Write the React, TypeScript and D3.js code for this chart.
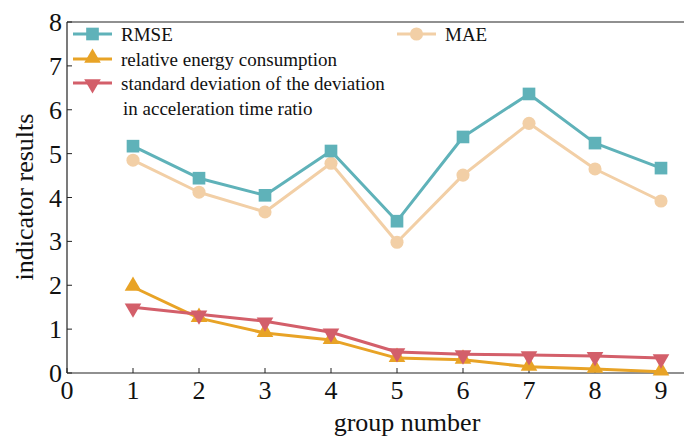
import React from "react";
import * as d3 from "d3";

const groups = [1, 2, 3, 4, 5, 6, 7, 8, 9];
const rmse = [5.17, 4.44, 4.05, 5.06, 3.46, 5.38, 6.36, 5.24, 4.67];
const mae = [4.85, 4.12, 3.67, 4.78, 2.98, 4.51, 5.69, 4.65, 3.92];
const energy = [1.96, 1.25, 0.91, 0.75, 0.34, 0.3, 0.14, 0.09, 0.03];
const stdDev = [1.5, 1.34, 1.18, 0.93, 0.48, 0.43, 0.41, 0.39, 0.34];
const xTicks = [0, 1, 2, 3, 4, 5, 6, 7, 8, 9];
const yTicks = [0, 1, 2, 3, 4, 5, 6, 7, 8];

const W = 684;
const H = 439;
const left = 67;
const top = 22;
const bottom = 373;
const font = "'Liberation Serif', 'Times New Roman', serif";

const x = d3.scaleLinear().domain([0, 9]).range([left, 661]);
const y = d3.scaleLinear().domain([0, 8]).range([bottom, top]);

type Marker = "square" | "circle" | "up" | "down";

function MarkerShape({ kind, cx, cy, color }: { kind: Marker; cx: number; cy: number; color: string }) {
  const sym =
    kind === "square" ? d3.symbolSquare : kind === "circle" ? d3.symbolCircle : d3.symbolTriangle;
  const size = kind === "square" ? 160 : kind === "circle" ? 135 : 120;
  const path = d3.symbol().type(sym).size(size)()!;
  const rot = kind === "down" ? 180 : 0;
  const dy = kind === "up" ? -1 : kind === "down" ? 1 : 0;
  return <path d={path} transform={`translate(${cx},${cy + dy}) rotate(${rot})`} fill={color} />;
}

const series: { name: string[]; values: number[]; color: string; marker: Marker }[] = [
  { name: ["MAE"], values: mae, color: "#f2cfa6", marker: "circle" },
  { name: ["RMSE"], values: rmse, color: "#5fb2b9", marker: "square" },
  { name: ["relative energy consumption"], values: energy, color: "#e8a326", marker: "up" },
  {
    name: ["standard deviation of the deviation", "in acceleration time ratio"],
    values: stdDev,
    color: "#d35f6a",
    marker: "down",
  },
];

const line = d3
  .line<number>()
  .x((_, i) => x(groups[i]))
  .y((v) => y(v));

export default function App() {
  const legendItems = [
    { s: series[1], lx: 73, ly: 34 },
    { s: series[0], lx: 397, ly: 34 },
    { s: series[2], lx: 73, ly: 59 },
    { s: series[3], lx: 73, ly: 83 },
  ];
  return (
    <svg
      width={W}
      height={H}
      style={{ position: "absolute", left: 0, top: 0, background: "#fff" }}
      fontFamily={font}
    >
      {/* frame */}
      <line x1={left} x2={W} y1={top} y2={top} stroke="#222" strokeWidth={1.2} />
      <line x1={left} x2={left} y1={top} y2={bottom} stroke="#222" strokeWidth={1.2} />
      <line x1={left} x2={W} y1={bottom} y2={bottom} stroke="#222" strokeWidth={1.2} />

      {/* y ticks */}
      {yTicks.map((t) => (
        <g key={`y${t}`}>
          <line x1={left} x2={left + 5} y1={y(t)} y2={y(t)} stroke="#222" strokeWidth={1} />
          <text x={62} y={y(t) + 9} textAnchor="end" fontSize={26} fill="#111">
            {t}
          </text>
        </g>
      ))}
      {/* x ticks */}
      {xTicks.map((t) => (
        <g key={`x${t}`}>
          <line x1={x(t)} x2={x(t)} y1={bottom} y2={bottom - 5} stroke="#222" strokeWidth={1} />
          <text x={x(t)} y={399} textAnchor="middle" fontSize={26} fill="#111">
            {t}
          </text>
        </g>
      ))}

      <text x={407} y={431} textAnchor="middle" fontSize={26} fill="#111">
        group number
      </text>
      <text
        transform={`translate(33,197) rotate(-90)`}
        textAnchor="middle"
        fontSize={26}
        fill="#111"
      >
        indicator results
      </text>

      {/* series */}
      {series.map((s) => (
        <g key={s.name[0]}>
          <path d={line(s.values)!} fill="none" stroke={s.color} strokeWidth={3} strokeLinejoin="round" />
          {s.values.map((v, i) => (
            <MarkerShape key={i} kind={s.marker} cx={x(groups[i])} cy={y(v)} color={s.color} />
          ))}
        </g>
      ))}

      {/* legend */}
      {legendItems.map(({ s, lx, ly }) => (
        <g key={`lg-${s.name[0]}`}>
          <line x1={lx} x2={lx + 39} y1={ly} y2={ly} stroke={s.color} strokeWidth={3} />
          <MarkerShape kind={s.marker} cx={lx + 19.5} cy={ly} color={s.color} />
          {s.name.map((n, j) => (
            <text key={j} x={lx + 48 + (j > 0 ? 2 : 0)} y={ly + 7 + j * 25} fontSize={19} fill="#111">
              {n}
            </text>
          ))}
        </g>
      ))}
    </svg>
  );
}
